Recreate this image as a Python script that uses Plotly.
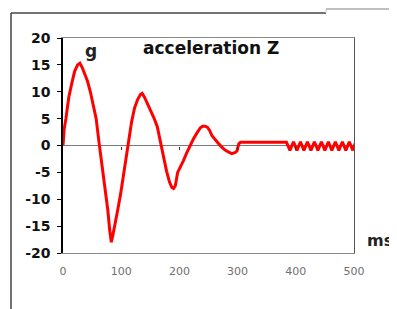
import plotly.graph_objects as go

# ---- data ----
time_ms = [0, 2, 5, 10, 15, 20, 25, 29, 33, 38, 42, 47, 52, 57, 62, 67, 72, 77, 80, 83,
           86, 89, 94, 99, 104, 109, 113, 118, 123, 128, 133, 136, 140, 145, 150, 156,
           162, 168, 173, 178, 183, 187, 190, 193, 197, 202, 207, 212, 218, 224, 230,
           236, 240, 244, 248, 252, 256, 260, 266, 272, 278, 284, 290, 296, 299, 302,
           305, 340, 384, 390, 396, 402, 408, 414, 420, 426, 432, 438, 444, 450, 456,
           462, 468, 474, 480, 486, 492, 498, 502]
accel_g = [0, 3, 5, 9, 11.5, 13.8, 15, 15.3, 14.5, 13, 12, 10, 7.5, 5, 0.5, -3.5, -7, -12,
           -15.5, -18, -16.5, -14.5, -12, -9, -5.5, -2, 0.5, 4.5, 7, 8.5, 9.5, 9.7, 9, 7.8,
           6.8, 5.2, 3.5, 0.5, -2.5, -4.8, -6.8, -7.8, -8, -7.5, -5, -4, -2.8, -1.5, 0,
           1.2, 2.3, 3.3, 3.6, 3.6, 3.4, 2.8, 1.8, 1.2, 0.5, -0.2, -0.8, -1.2, -1.5, -1.3,
           -1, 0.3, 0.6, 0.6, 0.6, -0.9, 0.7, -0.9, 0.7, -0.9, 0.7, -0.9, 0.7, -0.9, 0.7,
           -0.9, 0.7, -0.9, 0.7, -0.9, 0.7, -0.9, 0.7, -0.9, 0.4]

x_ticks = [0, 100, 200, 300, 400, 500]
x_tick_labels = ["0", "100", "200", "300", "400", "500"]
y_ticks = [-20, -15, -10, -5, 0, 5, 10, 15, 20]
y_tick_labels = ["-20", "-15", "-10", "-5", "0", "5", "10", "15", "20"]

# page is offset by the 8px body margin; work in page pixels and convert
OFF = 8
W, H = 397 - OFF, 309 - OFF
L, R, T, B = 63 - OFF, 43, 38 - OFF, 56
pw, ph = W - L - R, H - T - B


def px_x(p):
    return (p - OFF - L) / pw


def px_y(p):
    return (H - B - (p - OFF)) / ph


fig = go.Figure()
fig.add_trace(go.Scatter(x=time_ms, y=accel_g, mode="lines",
                         line=dict(color="#ff0000", width=3), showlegend=False,
                         xaxis="x", yaxis="y"))
# invisible trace to activate secondary axes
fig.add_trace(go.Scatter(x=[0], y=[0], mode="lines", line=dict(width=0),
                         showlegend=False, xaxis="x2", yaxis="y2", hoverinfo="skip"))

fig.update_layout(
    width=W, height=H,
    margin=dict(l=L, r=R, t=T, b=B),
    paper_bgcolor="white", plot_bgcolor="white",
    xaxis=dict(range=[0, 500], tickvals=x_ticks, ticktext=x_tick_labels,
               showgrid=False, zeroline=False, showline=True, linecolor="#8a8a8a",
               linewidth=1, mirror=True, ticks="",
               tickfont=dict(family="DejaVu Sans", size=11, color="#707070"),
               ticklabelstandoff=8),
    yaxis=dict(range=[-20, 20], tickvals=y_ticks, ticktext=y_tick_labels,
               showgrid=False, zeroline=True, zerolinecolor="#7a7a7a", zerolinewidth=1,
               showline=True, linecolor="black", linewidth=1.5,
               ticks="outside", ticklen=4, tickcolor="black", tickwidth=1,
               ticklabelstandoff=4,
               tickfont=dict(family="DejaVu Sans", size=14, color="#111111", weight="bold")),
    xaxis2=dict(range=[0, 500], overlaying="x", anchor="free", position=0.5,
                tickvals=[100, 200, 300, 400], showticklabels=False, ticks="outside",
                ticklen=3, tickcolor="#333333", showline=False, showgrid=False,
                zeroline=False),
    yaxis2=dict(range=[-20, 20], overlaying="y", side="right", showline=True,
                linecolor="#555555", linewidth=1, showticklabels=False, ticks="",
                showgrid=False, zeroline=False),
)

fig.add_annotation(text="acceleration Z", xref="paper", yref="paper",
                   x=px_x(211), y=px_y(48), xanchor="center", yanchor="middle",
                   showarrow=False,
                   font=dict(family="DejaVu Sans", size=17, color="#111111", weight="bold"))
fig.add_annotation(text="g", xref="paper", yref="paper",
                   x=px_x(91), y=px_y(51), xanchor="center", yanchor="middle",
                   showarrow=False,
                   font=dict(family="DejaVu Sans", size=17, color="#222222", weight="bold"))
fig.add_annotation(text="ms", xref="paper", yref="paper",
                   x=px_x(380), y=px_y(240), xanchor="center", yanchor="middle",
                   showarrow=False,
                   font=dict(family="DejaVu Sans", size=16, color="#222222", weight="bold"))

# outer frame lines of the original sheet
fig.add_shape(type="line", xref="paper", yref="paper",
              x0=px_x(11), y0=px_y(13), x1=px_x(326), y1=px_y(13),
              line=dict(color="#444444", width=1.5))
fig.add_shape(type="line", xref="paper", yref="paper",
              x0=px_x(11), y0=px_y(13), x1=px_x(11), y1=px_y(309),
              line=dict(color="#444444", width=1.5))
fig.add_shape(type="line", xref="paper", yref="paper",
              x0=px_x(326), y0=px_y(9), x1=px_x(397), y1=px_y(9),
              line=dict(color="#aaaaaa", width=1.5))
fig.add_shape(type="line", xref="paper", yref="paper",
              x0=px_x(326), y0=px_y(9), x1=px_x(326), y1=px_y(13),
              line=dict(color="#cccccc", width=1))

fig.write_html("out.html")
